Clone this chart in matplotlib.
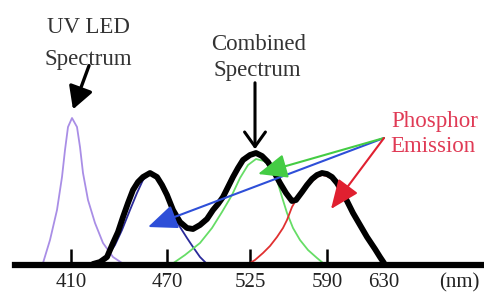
import matplotlib
matplotlib.use('Agg')
import matplotlib.pyplot as plt

# horizontal plot positions for the (non-linear) wavelength axis
tick_pos = [71, 167, 250, 327]
tick_labels = ['410', '470', '525', '590']
extra_pos = [384, 459]
extra_labels = ['630', '(nm)']

# UV LED spectrum
uv_x = [43, 50, 57, 62, 65, 68, 72, 77, 80, 83, 88, 95, 103, 113, 122]
uv_y = [2, 25, 55, 88, 115, 138, 147, 138, 118, 92, 65, 42, 22, 8, 2]

# combined spectrum
comb_x = [93, 100, 107, 113, 118, 123, 128, 133, 138, 143, 150, 157, 162, 167, 173,
          180, 187, 193, 200, 207, 213, 218, 223, 228, 233, 238, 243, 250, 256, 262,
          268, 274, 280, 286, 292, 296, 302, 307, 312, 317, 322, 327, 332, 337, 343,
          348, 353, 360, 367, 375, 380, 384]
comb_y = [1, 3, 8, 22, 33, 48, 62, 75, 83, 88, 92, 88, 80, 70, 55,
          43, 37, 36, 40, 46, 55, 61, 68, 78, 88, 97, 105, 110, 112, 109,
          103, 93, 82, 72, 64, 65, 73, 80, 86, 90, 92, 91, 88, 82, 72,
          62, 52, 40, 28, 16, 8, 2]

# phosphor emissions
blue_x = [95, 107, 115, 122, 130, 137, 143, 150, 157, 165, 173, 180, 187, 193, 200, 207]
blue_y = [1, 8, 20, 35, 55, 72, 85, 91, 87, 75, 50, 38, 27, 18, 8, 1]
green_x = [172, 185, 200, 212, 222, 232, 240, 248, 256, 264, 270, 277, 282, 287, 293,
           300, 308, 317, 323]
green_y = [1, 10, 22, 37, 53, 70, 87, 100, 106, 104, 98, 85, 68, 52, 37,
           25, 15, 7, 2]
red_x = [250, 255, 263, 270, 277, 283, 287, 292, 296, 302, 310, 317, 322, 327, 332,
         337, 343, 348, 353, 360, 367, 375, 382]
red_y = [2, 5, 12, 19, 28, 37, 45, 58, 65, 73, 82, 88, 90, 89, 86,
         80, 70, 60, 50, 38, 26, 14, 3]

# annotation anchors
uv_arrow = ((90, 202), (72, 153))
comb_arrow = ((255, 185), (255, 113))
phos_src = (384, 127)
phos_tips = [(148, 38), (258, 91), (331, 56)]
phos_colors = ['#2e4fd8', '#44cc44', '#e02030']

serif = ['Liberation Serif', 'DejaVu Serif']

fig = plt.figure(figsize=(4.84, 2.96), dpi=100)
ax = fig.add_axes([0, 0, 1, 1])
ax.set_xlim(0, 484)
ax.set_ylim(-31, 265)
for s in ['top', 'right', 'left']:
    ax.spines[s].set_visible(False)
ax.spines['bottom'].set_position(('data', 0))
ax.spines['bottom'].set_linewidth(4.5)
ax.spines['bottom'].set_bounds(15, 484)
ax.set_yticks([])
ax.set_xticks(tick_pos, tick_labels)
ax.set_xticks(extra_pos, extra_labels, minor=True)
ax.tick_params(axis='x', which='major', direction='in', length=11.5, width=1.8,
               pad=6, labelsize=15, colors='black')
ax.tick_params(axis='x', which='minor', direction='in', length=0, pad=6, labelsize=15)
for lab in ax.get_xticklabels(which='both'):
    lab.set_fontfamily(serif)
    lab.set_color('#222222')

ax.plot(uv_x, uv_y, color='#a98ee6', lw=1.3, zorder=2)
ax.plot(blue_x, blue_y, color='#2a2a9a', lw=1.3, zorder=2)
ax.plot(green_x, green_y, color='#66dd66', lw=1.3, zorder=2)
ax.plot(red_x, red_y, color='#e03030', lw=1.3, zorder=2)
ax.plot(comb_x, comb_y, color='black', lw=4.2, solid_joinstyle='round',
        solid_capstyle='round', zorder=3)

ax.annotate('', xy=uv_arrow[1], xytext=uv_arrow[0],
            arrowprops=dict(arrowstyle='-|>,head_length=0.9,head_width=0.5',
                            color='black', lw=2.4, mutation_scale=15), zorder=5)
ax.annotate('', xy=comb_arrow[1], xytext=comb_arrow[0],
            arrowprops=dict(arrowstyle='->,head_length=0.7,head_width=0.5',
                            color='black', lw=2.2, mutation_scale=15), zorder=5)
for tip, c in zip(phos_tips, phos_colors):
    ax.annotate('', xy=tip, xytext=phos_src,
                arrowprops=dict(arrowstyle='-|>,head_length=1.2,head_width=0.5',
                                color=c, lw=1.5, mutation_scale=15,
                                shrinkA=0, shrinkB=0), zorder=4)

tkw = dict(family=serif, fontsize=16.5, ha='center', va='baseline')
ax.text(88, 232, 'UV LED', color='#333333', **tkw)
ax.text(88, 200, 'Spectrum', color='#333333', **tkw)
ax.text(259, 215, 'Combined', color='#333333', **tkw)
ax.text(257, 189, 'Spectrum', color='#333333', **tkw)
ax.text(435, 138, 'Phosphor', color='#e03a55', **tkw)
ax.text(433, 113, 'Emission', color='#e03a55', **tkw)

fig.savefig('out.png', dpi=100)
